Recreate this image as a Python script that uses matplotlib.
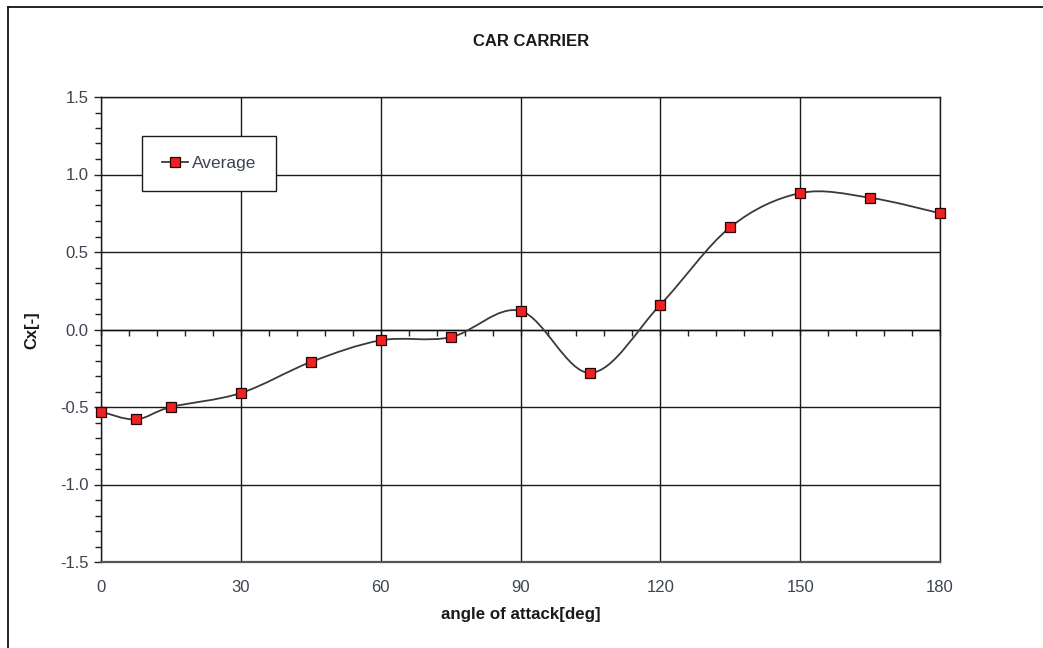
import numpy as np
import matplotlib
matplotlib.use("Agg")
import matplotlib.pyplot as plt
from matplotlib.path import Path
from matplotlib.patches import PathPatch
from matplotlib.lines import Line2D
from matplotlib.ticker import MultipleLocator

plt.rcParams['font.family'] = ['Liberation Sans', 'DejaVu Sans']

# angle of attack [deg] and averaged drag coefficient
angles = [0, 7.5, 15, 30, 45, 60, 75, 90, 105, 120, 135, 150, 165, 180]
cx_avg = [-0.53, -0.58, -0.50, -0.41, -0.21, -0.07, -0.05, 0.12, -0.28, 0.16, 0.66, 0.88, 0.85, 0.75]

x_ticks = [0, 30, 60, 90, 120, 150, 180]
y_ticks = [-1.5, -1.0, -0.5, 0.0, 0.5, 1.0, 1.5]


def smooth_path(xs, ys):
    # bezier segments through every point, same as a spreadsheet "smoothed line"
    pts = np.column_stack([xs, ys])
    n = len(pts)
    verts = [pts[0]]
    codes = [Path.MOVETO]
    for i in range(n - 1):
        p0 = pts[i - 1] if i > 0 else pts[i]
        p1 = pts[i]
        p2 = pts[i + 1]
        p3 = pts[i + 2] if i + 2 < n else pts[i + 1]
        c1 = p1 + (p2 - p0) / 6.0
        c2 = p2 - (p3 - p1) / 6.0
        verts += [c1, c2, p2]
        codes += [Path.CURVE4] * 3
    return Path(verts, codes)


fig = plt.figure(figsize=(10.43, 6.48), dpi=100)
W, H = 1043.0, 648.0
ax = fig.add_axes([101 / W, 1 - 562 / H, (940 - 101) / W, (562 - 97) / H])

ax.set_xlim(0, 180)
ax.set_ylim(-1.5, 1.5)
ax.set_xticks(x_ticks)
ax.set_yticks(y_ticks)
ax.set_yticklabels(['%.1f' % v for v in y_ticks])
ax.yaxis.set_minor_locator(MultipleLocator(0.1))
ax.tick_params(axis='y', which='major', direction='out', length=5, width=1, color='#222222',
               labelsize=12, labelcolor='#3d4450', pad=4)
ax.tick_params(axis='y', which='minor', direction='out', length=4, width=1, color='#222222')
ax.tick_params(axis='x', which='major', length=0, labelsize=12, labelcolor='#3d4450', pad=13)

ax.grid(True, which='major', color='#1a1a1a', linewidth=1.0)
ax.set_axisbelow(True)
for side in ['top', 'right', 'left']:
    ax.spines[side].set_color('#1a1a1a')
    ax.spines[side].set_linewidth(1.0)
ax.spines['bottom'].set_color('#555555')
ax.spines['bottom'].set_linewidth(1.6)

# value axis crossing at Cx = 0 with its minor ticks hanging below
ax.axhline(0, color='#111111', linewidth=1.0, zorder=1)
cross = ax.secondary_xaxis(0.5)
cross.set_alignment('bottom')
cross.spines['bottom'].set_visible(False)
cross.spines['top'].set_visible(False)
cross.set_xticks(x_ticks)
cross.xaxis.set_minor_locator(MultipleLocator(6))
cross.tick_params(which='both', direction='out', length=4, width=1, color='#222222',
                  labelbottom=False, labeltop=False)

curve = PathPatch(smooth_path(angles, cx_avg), facecolor='none', edgecolor='#3a3a3a',
                  linewidth=1.3, zorder=3)
ax.add_patch(curve)
ax.plot(angles, cx_avg, linestyle='none', marker='s', markersize=6.8,
        markerfacecolor='#ee2222', markeredgecolor='#2a0000', markeredgewidth=0.9, zorder=4,
        clip_on=False)

handle = Line2D([0], [0], color='#3a3a3a', linewidth=1.3, marker='s', markersize=6.8,
                markerfacecolor='#ee2222', markeredgecolor='#2a0000', markeredgewidth=0.9)
leg = ax.legend([handle], ['Average'], loc='upper left',
                bbox_to_anchor=((142 - 101) / (940 - 101), 1 - (136 - 97) / (562 - 97)),
                frameon=True, fancybox=False, borderaxespad=0, fontsize=12.5,
                borderpad=1.15, handlelength=1.5, handletextpad=0.2)
leg.get_frame().set_edgecolor('#1a1a1a')
leg.get_frame().set_linewidth(1.0)
leg.get_frame().set_facecolor('white')
leg.get_frame().set_alpha(1)
for t in leg.get_texts():
    t.set_color('#3d4450')

fig.text(531 / W, 1 - 41 / H, 'CAR CARRIER', ha='center', va='center',
         fontsize=12, fontweight='bold', color='#1a1a1a')
fig.text(521 / W, 1 - 615 / H, 'angle of attack[deg]', ha='center', va='center',
         fontsize=12.2, fontweight='bold', color='#1a1a1a')
fig.text(32 / W, 1 - 330 / H, 'Cx[-]', ha='center', va='center', rotation=90,
         fontsize=12, fontweight='bold', color='#1a1a1a')

# outer chart frame
fig.add_artist(Line2D([8 / W, 8 / W], [0, 1 - 7 / H], transform=fig.transFigure,
                      color='#111111', linewidth=1.3))
fig.add_artist(Line2D([8 / W, 1], [1 - 7 / H, 1 - 7 / H], transform=fig.transFigure,
                      color='#111111', linewidth=1.3))

fig.savefig('out.png', dpi=100)
